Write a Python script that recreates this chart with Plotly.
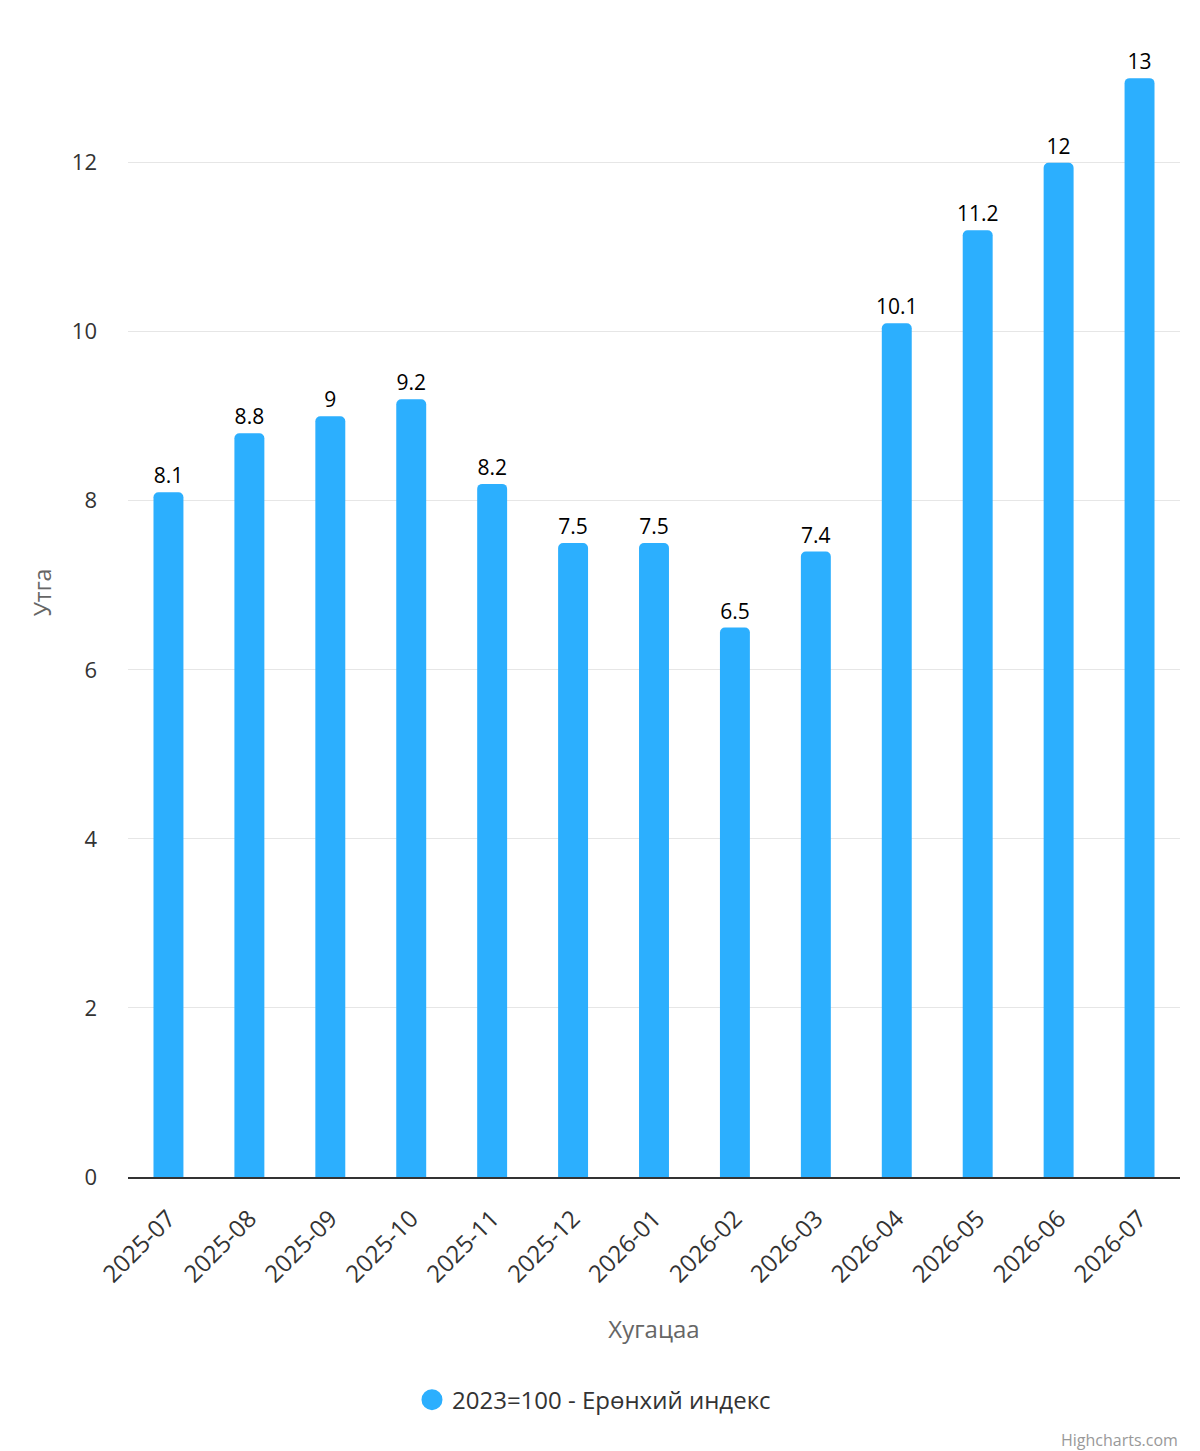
import plotly.graph_objects as go

# monthly values of the index
months = [
    "2025-07", "2025-08", "2025-09", "2025-10", "2025-11", "2025-12",
    "2026-01", "2026-02", "2026-03", "2026-04", "2026-05", "2026-06", "2026-07",
]
values = [8.1, 8.8, 9, 9.2, 8.2, 7.5, 7.5, 6.5, 7.4, 10.1, 11.2, 12, 13]
y_ticks = [0, 2, 4, 6, 8, 10, 12, 14]

series_name = "2023=100 - Ерөнхий индекс"
bar_color = "#2caffe"
font_family = "Open Sans, Noto Sans, sans-serif"

fig = go.Figure()

fig.add_trace(go.Bar(
    x=months,
    y=values,
    name=series_name,
    marker=dict(color=bar_color, cornerradius=5, line=dict(width=0)),
    text=[f"{v:g}" for v in values],
    textposition="outside",
    constraintext="none",
    textfont=dict(color="#000000", size=21, family=font_family),
    cliponaxis=False,
    showlegend=False,
))

# legend entry with a round symbol, like the original
fig.add_trace(go.Scatter(
    x=[None], y=[None],
    mode="markers",
    name=series_name,
    marker=dict(color=bar_color, size=24, symbol="circle",
                line=dict(color=bar_color, width=5)),
    showlegend=True,
))

fig.update_layout(
    width=1192,
    height=1443,
    margin=dict(l=120, r=20, t=0, b=274),
    paper_bgcolor="white",
    plot_bgcolor="white",
    font=dict(family=font_family, color="#333333", size=20),
    bargap=0.63,
    showlegend=True,
    legend=dict(
        orientation="h",
        xref="container", x=0.4916, xanchor="center",
        yref="container", y=0.0353, yanchor="middle",
        font=dict(size=24, color="#333333"),
        itemsizing="trace",
    ),
    xaxis=dict(
        type="category",
        automargin=False,
        tickangle=-45,
        tickfont=dict(size=24, color="#333333"),
        showline=True, linecolor="#333333", linewidth=2,
        showgrid=False,
        ticks="",
        ticklabelstandoff=16,
        title=dict(text="Хугацаа", font=dict(size=24, color="#666666"), standoff=33),
    ),
    yaxis=dict(
        range=[0, 13.83],
        automargin=False,
        tickvals=y_ticks,
        tickfont=dict(size=22, color="#333333"),
        showgrid=True, gridcolor="#e6e6e6", gridwidth=1,
        zeroline=False,
        ticks="",
        ticklabelstandoff=30,
        title=dict(text="Утга", font=dict(size=23, color="#666666"), standoff=13),
    ),
    annotations=[dict(
        text="Highcharts.com",
        xref="paper", yref="paper",
        x=1.0, y=-0.225, xanchor="right", yanchor="middle",
        showarrow=False,
        font=dict(size=16, color="#999999"),
    )],
)

fig.write_html("out.html")
